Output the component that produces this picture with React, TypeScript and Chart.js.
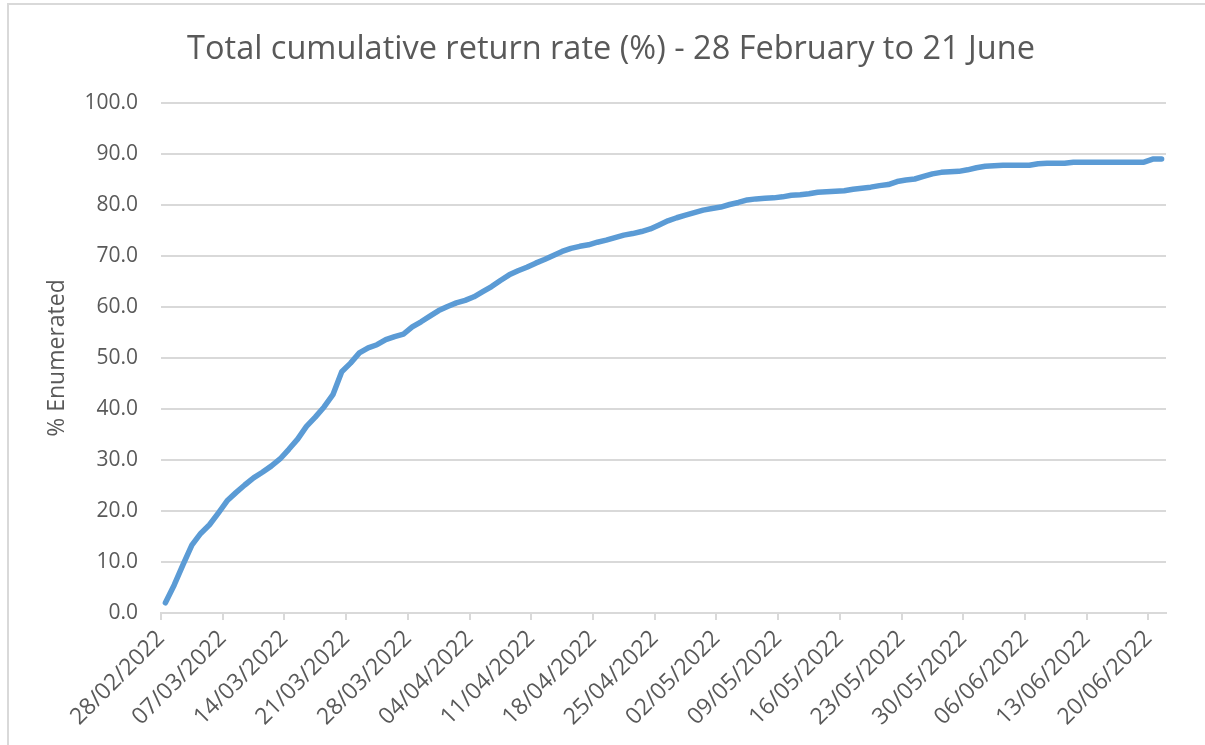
import React, { useEffect, useRef } from "react";
import { Chart, registerables } from "chart.js";

Chart.register(...registerables);

const titleText = "Total cumulative return rate (%) - 28 February to 21 June";
const yAxisTitle = "% Enumerated";

// Week tick labels (every 7th day, starting 28/02/2022)
const tickLabels = [
  "28/02/2022", "07/03/2022", "14/03/2022", "21/03/2022", "28/03/2022",
  "04/04/2022", "11/04/2022", "18/04/2022", "25/04/2022", "02/05/2022",
  "09/05/2022", "16/05/2022", "23/05/2022", "30/05/2022", "06/06/2022",
  "13/06/2022", "20/06/2022",
];
const tickDayIndex = [0, 7, 14, 21, 28, 35, 42, 49, 56, 63, 70, 77, 84, 91, 98, 105, 112];
const dayCount = 114; // 28/02/2022 .. 21/06/2022

// Daily cumulative return rate (%)
const returnRate = [
  2.0, 5.5, 9.5, 13.3, 15.6, 17.3, 19.6, 22.0, 23.6, 25.1,
  26.5, 27.6, 28.8, 30.2, 32.1, 34.1, 36.6, 38.4, 40.4, 42.8,
  47.3, 49.0, 51.0, 52.0, 52.6, 53.6, 54.2, 54.7, 56.1, 57.1,
  58.2, 59.3, 60.1, 60.8, 61.3, 62.0, 63.0, 64.0, 65.2, 66.3,
  67.1, 67.8, 68.6, 69.3, 70.1, 70.9, 71.5, 71.9, 72.2, 72.7,
  73.1, 73.6, 74.1, 74.4, 74.8, 75.3, 76.1, 76.9, 77.5, 78.0,
  78.5, 79.0, 79.3, 79.6, 80.1, 80.5, 81.0, 81.2, 81.3, 81.4,
  81.6, 81.9, 82.0, 82.2, 82.5, 82.6, 82.7, 82.8, 83.1, 83.3,
  83.5, 83.8, 84.0, 84.6, 84.9, 85.1, 85.6, 86.1, 86.4, 86.5,
  86.6, 86.9, 87.3, 87.6, 87.7, 87.8, 87.8, 87.8, 87.8, 88.1,
  88.2, 88.2, 88.2, 88.4, 88.4, 88.4, 88.4, 88.4, 88.4, 88.4,
  88.4, 88.4, 89.0, 89.0,
];

const FONT = "'Open Sans', 'Noto Sans', sans-serif";
const TEXT = "#595959";
const GRID = "#d9d9d9";

export default function App() {
  const ref = useRef<HTMLCanvasElement | null>(null);

  useEffect(() => {
    if (!ref.current) return;
    const points = returnRate.map((v, i) => ({ x: i + 0.5, y: v }));
    const chart = new Chart(ref.current, {
      type: "line",
      data: {
        datasets: [
          {
            data: points,
            borderColor: "#5b9bd5",
            backgroundColor: "#5b9bd5",
            borderWidth: 5.5,
            pointRadius: 0,
            tension: 0,
            borderCapStyle: "round",
            borderJoinStyle: "round",
          },
        ],
      },
      options: {
        animation: false,
        responsive: false,
        maintainAspectRatio: false,
        layout: { padding: { left: 56, right: 39, top: 0, bottom: 0 } },
        plugins: {
          legend: { display: false },
          tooltip: { enabled: false },
          title: {
            display: true,
            text: titleText,
            color: TEXT,
            font: { family: FONT, size: 32.5, weight: "normal" },
            padding: { top: 30, bottom: 34 },
          },
        },
        scales: {
          x: {
            type: "linear",
            min: 0,
            max: dayCount,
            afterBuildTicks: (scale: any) => {
              scale.ticks = tickDayIndex.map((d) => ({ value: d }));
            },
            afterFit: (scale: any) => {
              scale.height = 132;
            },
            ticks: {
              autoSkip: false,
              minRotation: 45,
              maxRotation: 45,
              padding: 5,
              color: TEXT,
              font: { family: FONT, size: 23 },
              callback: (value: any) => {
                const idx = tickDayIndex.indexOf(Number(value));
                return idx >= 0 ? tickLabels[idx] : "";
              },
            },
            grid: {
              drawOnChartArea: false,
              drawTicks: true,
              tickLength: 7,
              color: GRID,
              lineWidth: 2,
            },
            border: { display: true, color: GRID, width: 2 },
          },
          y: {
            min: 0,
            max: 100,
            afterFit: (scale: any) => {
              scale.width = 105;
            },
            ticks: {
              stepSize: 10,
              padding: 23,
              color: TEXT,
              font: { family: FONT, size: 21 },
              callback: (value: any) => Number(value).toFixed(1),
            },
            grid: {
              color: GRID,
              lineWidth: 2,
              drawTicks: false,
            },
            border: { display: false },
            title: {
              display: true,
              text: yAxisTitle,
              color: TEXT,
              font: { family: FONT, size: 23 },
              padding: { top: -12, bottom: 0 },
            },
          },
        },
      },
    });
    return () => chart.destroy();
  }, []);

  return (
    <div
      style={{
        position: "fixed",
        left: 0,
        top: 0,
        width: 1205,
        height: 745,
        background: "#ffffff",
      }}
    >
      <div
        style={{
          position: "absolute",
          left: 7,
          top: 3,
          right: 0,
          bottom: 0,
          borderTop: "2px solid #d9d9d9",
          borderLeft: "2px solid #d9d9d9",
        }}
      />
      <canvas
        ref={ref}
        width={1205}
        height={745}
        style={{ position: "absolute", left: 0, top: 0, width: 1205, height: 745 }}
      />
    </div>
  );
}
